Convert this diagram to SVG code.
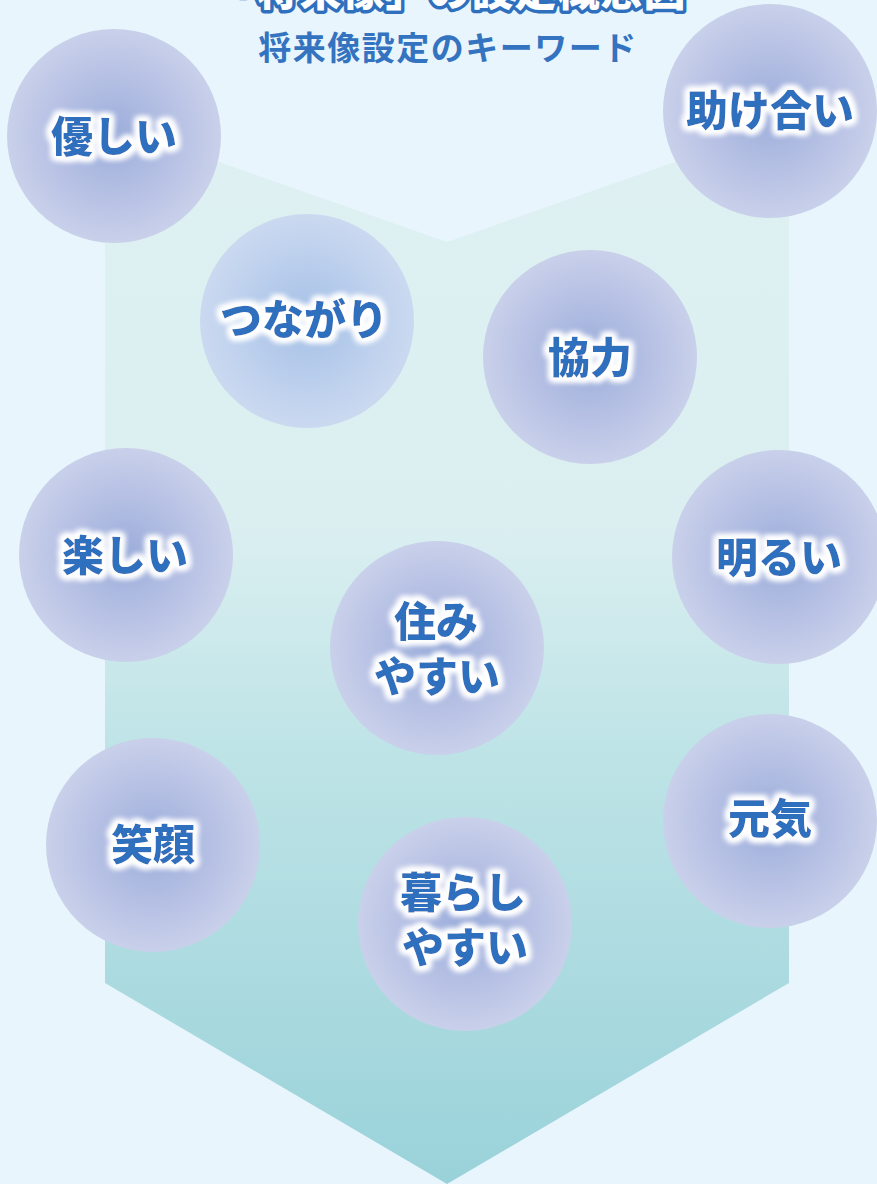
<svg xmlns="http://www.w3.org/2000/svg" width="877" height="1184" viewBox="0 0 877 1184">
<defs>
<linearGradient id="arrowGrad" gradientUnits="userSpaceOnUse" x1="0" y1="122" x2="0" y2="1184">
<stop offset="0" stop-color="#def0f2"/>
<stop offset="0.38" stop-color="#dbeff1"/>
<stop offset="0.6" stop-color="#bde3e6"/>
<stop offset="1" stop-color="#9ad2da"/>
</linearGradient>
<radialGradient id="ball">
<stop offset="0" stop-color="#9badda"/>
<stop offset="0.5" stop-color="#b3bee3"/>
<stop offset="1" stop-color="#c9d0ea"/>
</radialGradient>
<radialGradient id="ballBlue">
<stop offset="0" stop-color="#a5c0e6"/>
<stop offset="0.5" stop-color="#b8cdec"/>
<stop offset="1" stop-color="#cbd9f0"/>
</radialGradient>
<filter id="glow" x="-20%" y="-40%" width="140%" height="180%">
<feMorphology in="SourceAlpha" operator="dilate" radius="2.5" result="d"/>
<feGaussianBlur in="d" stdDeviation="3" result="b"/>
<feFlood flood-color="#ffffff"/>
<feComposite in2="b" operator="in" result="g"/>
<feMerge><feMergeNode in="g"/><feMergeNode in="g"/><feMergeNode in="g"/><feMergeNode in="SourceGraphic"/></feMerge>
</filter>
</defs>
<style>
.word{font-family:"Noto Sans CJK JP","Noto Sans",sans-serif;font-weight:900;font-size:42px;fill:#2e6fbe;text-anchor:middle;filter:url(#glow)}
.title{font-family:"Noto Sans CJK JP","Noto Sans",sans-serif;font-weight:900;font-size:42px;letter-spacing:1px;fill:#ffffff;stroke:#2e6fbe;stroke-width:7;stroke-linejoin:round;paint-order:stroke;text-anchor:middle}
.sub{font-family:"Noto Sans CJK JP","Noto Sans",sans-serif;font-weight:700;font-size:33px;letter-spacing:1.5px;fill:#3473bf;text-anchor:middle}
.ball{fill:url(#ball)}
</style>
<rect width="877" height="1184" fill="#e8f5fd"/>
<polygon id="arrow" points="105,122 447,242 789,122 789,983 447,1184 105,983" fill="url(#arrowGrad)"/>
<g id="heading">
<text class="title" x="450" y="6">「将来像」の設定概念図</text>
<text class="sub" x="448" y="60">将来像設定のキーワード</text>
</g>
<g id="connectors"></g>
<g id="n-yasashii"><circle class="ball" cx="114" cy="136" r="107"/><text class="word" x="114" y="152">優しい</text></g>
<g id="n-tasukeai"><circle class="ball" cx="770" cy="111" r="107"/><text class="word" x="770" y="126">助け合い</text></g>
<g id="n-tsunagari"><circle cx="307" cy="321" r="107" fill="url(#ballBlue)"/><text class="word" x="304" y="335">つながり</text></g>
<g id="n-kyouryoku"><circle class="ball" cx="590" cy="357" r="107"/><text class="word" x="590" y="373">協力</text></g>
<g id="n-tanoshii"><circle class="ball" cx="126" cy="555" r="107"/><text class="word" x="125" y="571">楽しい</text></g>
<g id="n-akarui"><circle class="ball" cx="779" cy="557" r="107"/><text class="word" x="779" y="573">明るい</text></g>
<g id="n-sumiyasui"><circle class="ball" cx="437" cy="648" r="107"/><text class="word" x="436" y="637">住み</text><text class="word" x="437" y="692">やすい</text></g>
<g id="n-egao"><circle class="ball" cx="153" cy="845" r="107"/><text class="word" x="153" y="860">笑顔</text></g>
<g id="n-genki"><circle class="ball" cx="770" cy="821" r="107"/><text class="word" x="770" y="834">元気</text></g>
<g id="n-kurashiyasui"><circle class="ball" cx="465" cy="924" r="107"/><text class="word" x="463" y="908">暮らし</text><text class="word" x="465" y="963">やすい</text></g>
</svg>
